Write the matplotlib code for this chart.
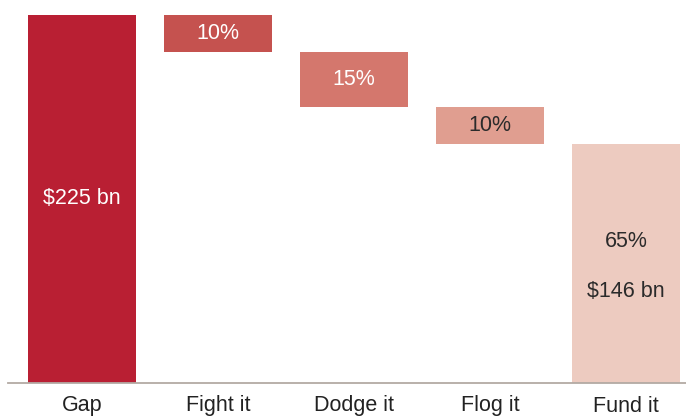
import numpy as np
import matplotlib.pyplot as plt

plt.rcParams["font.family"] = ["Liberation Sans", "DejaVu Sans"]

categories = ["Gap", "Fight it", "Dodge it", "Flog it", "Fund it"]
shares = [100, 10, 15, 10, 65]
labels = ["$225 bn", "10%", "15%", "10%", "65%"]
fund_amount = "$146 bn"
colors = ["#B91F33", "#C5524F", "#D4776D", "#E09E90", "#EDCBC0"]
text_colors = ["white", "white", "white", "#2b2b2b", "#2b2b2b"]

# waterfall: gap is the full bar, the rest step down from the top
bottoms = [0]
top = shares[0]
for s in shares[1:]:
    bottoms.append(top - s)
    top -= s

fig = plt.figure(figsize=(6.86, 4.16), dpi=100)
ax = fig.add_axes([8 / 686, 33 / 416, 678 / 686, 368 / 416])

x = np.arange(len(categories))
ax.bar(x, shares, bottom=bottoms, width=0.794, color=colors, linewidth=0)

fs = 15.5
for i, (lab, s, b) in enumerate(zip(labels, shares, bottoms)):
    if i == len(categories) - 1:
        ax.annotate(lab, (x[i], b + s / 2), xytext=(0, 16), textcoords="offset points",
                    ha="center", va="center", fontsize=fs, color=text_colors[i])
        ax.annotate(fund_amount, (x[i], b + s / 2), xytext=(0, -20), textcoords="offset points",
                    ha="center", va="center", fontsize=fs, color=text_colors[i])
    else:
        ax.text(x[i], b + s / 2, lab, ha="center", va="center", fontsize=fs,
                color=text_colors[i])

ax.set_xlim(-0.544, 4.441)
ax.set_ylim(0, 100)
ax.set_xticks(x)
ax.set_xticklabels(categories, fontsize=fs, color="#222222")
ax.tick_params(axis="x", length=0, pad=9)
ax.set_yticks([])
for side in ["top", "right", "left"]:
    ax.spines[side].set_visible(False)
ax.spines["bottom"].set_color("#B3AAA4")
ax.spines["bottom"].set_linewidth(1.3)

fig.savefig("out.png", dpi=100)
